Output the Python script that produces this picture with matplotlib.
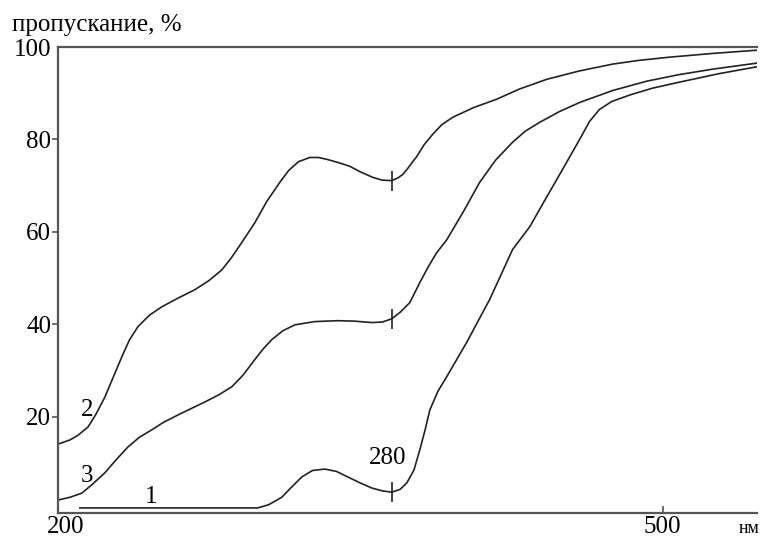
#!/usr/bin/env python3
"""Кривые пропускания 1, 2, 3 (пропускание, % от длины волны, нм)."""
import matplotlib
matplotlib.use("Agg")
import matplotlib.pyplot as plt

# curve 1
x1 = [207, 296.5, 302, 308.5, 313, 318.6, 324, 330.2, 336, 341.7, 348, 353.8, 359, 363.8,
      368, 371.4, 375, 377.9, 380.5, 383, 387, 391.5, 401.5, 413.1, 424.6, 433.2,
      441, 449.7, 458.3, 463.3, 468.3, 474.4, 483.4, 495, 508.5, 528, 547.2]
y1 = [0.3, 0.3, 1.0, 2.6, 4.6, 7.0, 8.4, 8.7, 8.2, 7.0, 5.7, 4.6, 4.0, 3.7,
      4.3, 5.7, 8.5, 12.8, 17.0, 21.5, 25.5, 28.7, 36.1, 45.4, 56.2, 61.1,
      67.0, 73.5, 80.0, 83.9, 86.5, 88.2, 89.6, 91.1, 92.4, 94.2, 95.7]

# curve 2
x2 = [196, 202, 206, 211.1, 215, 219.6, 224, 228.1, 232, 236.2, 242, 248.2, 256, 264.8,
      272, 278.4, 283, 288.4, 295, 301, 307.5, 312, 317, 322.6, 327, 331.2, 337,
      342.7, 348, 354.3, 359, 363.8, 367, 369.3, 372, 374.4, 376.4, 380, 384.4,
      389, 394.5, 405, 416.6, 428, 441.7, 458, 474.9, 488, 503.5, 525, 547.2]
y2 = [14.1, 15.0, 16.0, 17.8, 20.5, 24.3, 28.8, 33.0, 36.7, 39.5, 42.0, 43.8, 45.6, 47.5,
      49.5, 51.8, 54.3, 57.7, 62.0, 66.6, 70.7, 73.3, 75.2, 76.1, 76.1, 75.7, 75.0,
      74.2, 73.0, 71.8, 71.2, 71.1, 71.7, 72.4, 73.8, 75.2, 76.3, 78.8, 81.1,
      83.2, 84.8, 86.9, 88.7, 90.9, 93.0, 94.8, 96.3, 97.1, 97.8, 98.6, 99.3]

# curve 3
x3 = [196, 202, 208, 213, 219.6, 225, 231.2, 237, 243.2, 249, 256.3, 263, 269.8, 277,
      283.4, 289, 295, 299, 303.5, 309, 315.1, 325, 336.7, 345, 353.8, 359, 363.8,
      368, 372.9, 377.9, 382, 386.4, 391.5, 400, 408, 416, 424.6, 431, 438.2,
      448, 458.3, 475, 492, 508, 525.1, 547.2]
y3 = [2.0, 2.6, 3.5, 5.3, 7.9, 10.6, 13.5, 15.6, 17.2, 18.8, 20.4, 21.8, 23.2, 24.8,
      26.5, 29.0, 32.4, 34.6, 36.7, 38.6, 39.9, 40.6, 40.8, 40.7, 40.4, 40.5, 41.2,
      42.6, 44.7, 49.0, 52.3, 55.5, 58.3, 64.5, 70.7, 75.5, 79.4, 81.8, 83.7,
      86.0, 88.0, 90.6, 92.6, 94.0, 95.2, 96.5]

# отметки на кривых (положение по оси абсцисс на графике)
mark_x = 363.8
mark_y = [3.7, 71.1, 41.2]

xticks = [200, 500]
yticks = [20, 40, 60, 80, 100]

plt.rcParams["font.family"] = ["Liberation Serif", "DejaVu Serif"]

fig = plt.figure(figsize=(7.61, 5.37), dpi=100)
ax = fig.add_axes([58 / 761, 1 - 513 / 537, 699 / 761, 466 / 537])

line_kw = dict(color="#222222", lw=1.2, solid_joinstyle="round")
ax.plot(x1, y1, **line_kw)
ax.plot(x2, y2, **line_kw)
ax.plot(x3, y3, **line_kw)
ax.plot([mark_x] * 3, mark_y, ls="none", marker="|", ms=14, mew=1.2, color="#222222")

ax.set_xlim(196, 547.5)
ax.set_ylim(-0.8, 100)

for side in ("left", "top", "bottom"):
    ax.spines[side].set_color("#555555")
    ax.spines[side].set_linewidth(1.6)
ax.spines["right"].set_visible(False)

ax.set_yticks(yticks)
ax.set_yticklabels([str(v) for v in yticks], fontsize=18)
ax.tick_params(axis="y", direction="out", length=4, width=1.2, color="#555555", pad=1)
ax.set_xticks(xticks)
ax.set_xticklabels([str(v) for v in xticks], fontsize=18)
ax.tick_params(axis="x", direction="in", length=5, width=1.2, color="#555555", pad=2)
ax.xaxis.get_major_ticks()[0].tick1line.set_visible(False)
ax.yaxis.get_major_ticks()[-1].tick1line.set_visible(False)

ax.text(1.003, -0.033, "нм", transform=ax.transAxes, fontsize=13,
        ha="right", va="center")
fig.text(12 / 761, 1 - 25 / 537, "пропускание, %", fontsize=18, ha="left", va="center")

ax.text(210.5, 21.5, "2", fontsize=18, ha="center", va="center")
ax.text(210.5, 7.3, "3", fontsize=18, ha="center", va="center")
ax.text(243, 2.6, "1", fontsize=18, ha="center", va="center")
ax.text(362, 11.2, "280", fontsize=18, ha="center", va="center")

fig.savefig("out.png", dpi=100)
